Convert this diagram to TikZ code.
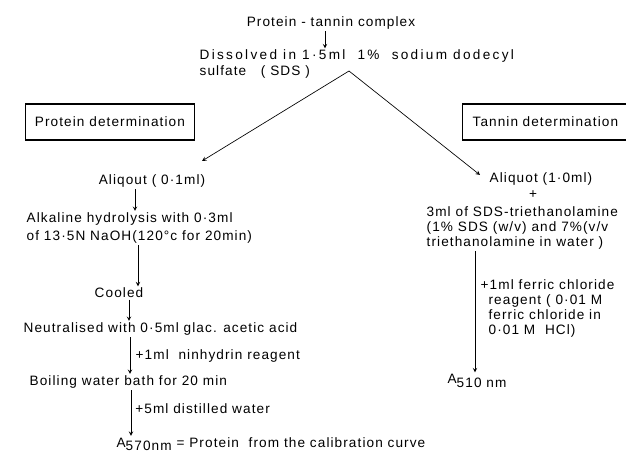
\documentclass[tikz,border=0pt]{standalone}
\usepackage{fontspec}
\setmainfont{Liberation Sans}[LetterSpace=8]
\usetikzlibrary{positioning,calc}

\begin{document}
\begin{tikzpicture}[x=0.75pt,y=-0.75pt,>=stealth,line width=0.5pt,
    txt/.style={inner sep=1pt,font=\fontsize{10.2}{11.3}\selectfont},
    head/.style={txt,draw,line width=0.9pt,minimum height=27pt,inner xsep=7pt}]
    \useasboundingbox (0,0) rectangle (626,456);
    % top
    \node[txt]                        (cplx)  at (331,23)  {Protein - tannin complex};
    \node[txt,anchor=west,align=left] (sds)   at (198,64)  {\addfontfeature{LetterSpace=17}Dissolved in 1·5ml \ 1\% \ sodium dodecyl\\sulfate \ \ ( SDS )};
    \coordinate                       (fork)  at (349,71);
    \node[head,anchor=west]           (hprot) at (25,122)  {Protein determination};
    \node[head,anchor=west,inner xsep=7.5pt,text width=115pt,align=left] (htan) at (462,122) {Tannin determination};

    % protein branch
    \node[txt]                        (aliP)  at (152,181) {Aliqout ( 0·1ml)};
    \node[txt,anchor=west]            (alk1)  at (25,219)  {Alkaline hydrolysis with 0·3ml};
    \node[txt,anchor=west]            (alk2)  at (25,237)  {of 13·5N NaOH(120°c for 20min)};
    \node[txt]                        (cool)  at (119,293) {Cooled};
    \node[txt,anchor=west]            (neut)  at (22,329)  {Neutralised with 0·5ml glac. acetic acid};
    \node[txt,anchor=west]            (boil)  at (28,382)  {Boiling water bath for 20 min};
    \node[txt,anchor=west]            (aprot) at (115,444) {A\raisebox{-0.4ex}{570nm} = Protein \ from the calibration curve};

    % tannin branch
    \node[txt]                        (aliT)  at (541,179) {Aliquot (1·0ml)};
    \node[txt]                        (plus)  at (533,195) {+};
    \node[txt,anchor=west,align=left] (trie)  at (425,228) {3ml of SDS-triethanolamine\\(1\% SDS (w/v) and 7\%(v/v\\triethanolamine in water )};
    \node[txt,anchor=west]            (a510)  at (446,381) {A\raisebox{-0.6ex}{510 nm}};

    \draw[->] (cplx.south -| 325,0) -- (sds.north -| 325,0);
    \draw[->] (fork) -- ($(aliP.north)+(50,-12)$);
    \draw[->] (fork) -- ($(aliT.west)+(-8,-4)$);

    \draw[->] (aliP.south -| 135,0) -- (alk1.north -| 135,0);
    \draw[->] (alk2.south -| 138,0) -- (cool.north -| 138,0);
    \draw[->] (cool.south -| 129,0) -- (neut.north -| 129,0);
    \draw[->] (neut.south -| 130,0) -- node[txt,right=3pt] (nin) {+1ml \ ninhydrin reagent} (boil.north -| 130,0);
    \draw[->] (boil.south -| 131,0) -- node[txt,right=2pt,pos=0.4] (dist) {+5ml distilled water} (aprot.north -| 131,0);
    \draw[->] (trie.south -| 475,0) -- node[txt,right=3pt,align=left,pos=0.47] (ferric)
        {+1ml ferric chloride\\\hphantom{+}reagent ( 0·01 M\\\hphantom{+}ferric chloride in\\\hphantom{+}0·01 M \ HCl)} (a510.north -| 475,0);
\end{tikzpicture}
\end{document}
